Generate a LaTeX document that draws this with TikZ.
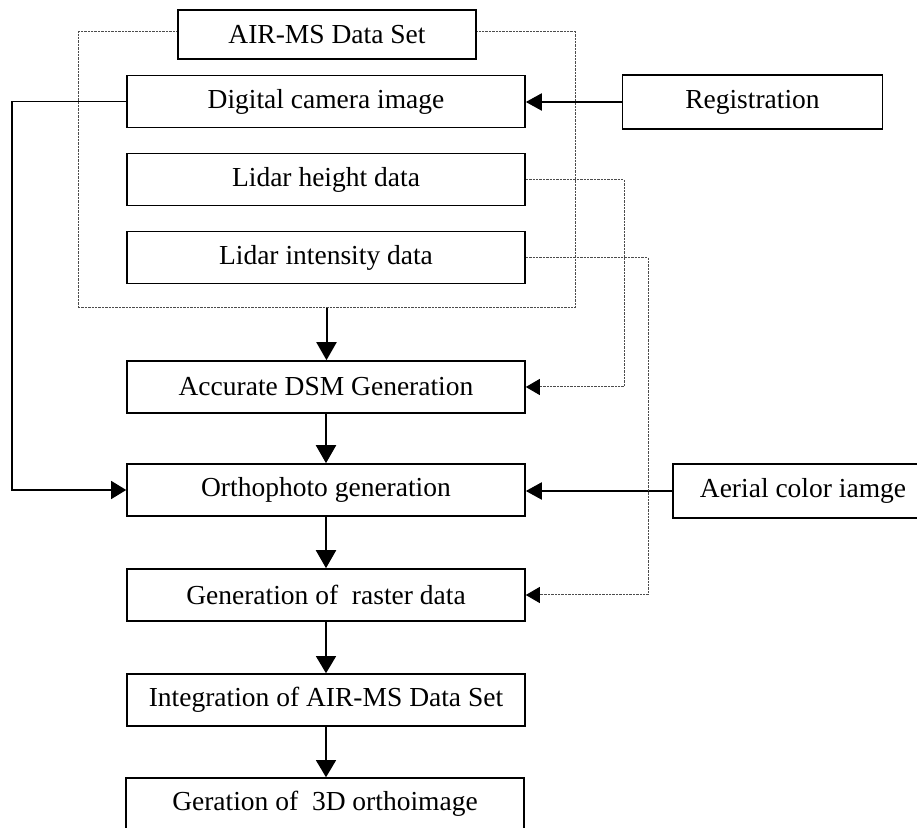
\documentclass[tikz,border=0pt]{standalone}
\usepackage{fontspec}
\setmainfont{Liberation Serif}
\usetikzlibrary{arrows.meta}
\begin{document}
\begin{tikzpicture}[x=0.5pt,y=-0.5pt,
  txt/.style={font=\fontsize{13.75pt}{16pt}\selectfont},
  box/.style={txt, draw=black, line width=0.8pt, fill=white, inner sep=0pt,
    minimum width=199pt, minimum height=26pt},
  sidebox/.style={box, minimum width=130pt, minimum height=27pt},
  setframe/.style={draw=gray!60!black, line width=0.5pt, dash pattern=on 1.2pt off 0.5pt,
    inner sep=0pt, minimum width=248.5pt, minimum height=138pt},
  flow/.style={line width=1pt, -{Triangle[length=9pt,width=10pt]}},
  sideflow/.style={line width=1pt, -{Triangle[length=8pt,width=8.5pt]}},
  thinflow/.style={line width=0.7pt, -{Triangle[length=8.5pt,width=10pt]}},
  dotflow/.style={draw=gray!60!black, line width=0.5pt, dash pattern=on 1.2pt off 0.5pt,
    -{Triangle[length=7pt,width=8pt,color=black]}},
]
\useasboundingbox (0,0) rectangle (917,828);
\clip (0,0) rectangle (917,828);
\fill[white] (0,0) rectangle (917,828);

% dotted frame round the data set, with its title box on top
\node[setframe] (set) at (326.5,170) {};
\node[box, minimum width=149pt, minimum height=24.5pt] (airms) at (327,34.5) {AIR-MS Data Set};

% data set members
\node[box] (camera)    at (326,101.5) {Digital camera image};
\node[box] (height)    at (326,179.5) {Lidar height data};
\node[box] (intensity) at (326,257.5) {Lidar intensity data};

% processing chain
\node[box] (dsm)      at (326,387)   {Accurate DSM Generation};
\node[box] (ortho)    at (326,490)   {Orthophoto generation};
\node[box] (raster)   at (326,595)   {Generation of~ raster data};
\node[box] (integ)    at (326,700)   {Integration of AIR-MS Data Set};
\node[box] (geration) at (325,804)   {Geration of~ 3D orthoimage};

% side inputs
\node[sidebox] (reg)    at (752.5,102) {Registration};
\node[sidebox] (aerial) at (803,491)   {Aerial color iamge};

% turning points of the routed links
\coordinate (leftrail) at (12,0);
\coordinate (hrail)    at (624,0);
\coordinate (irail)    at (648,0);

% main flow
\draw[flow] (set.south) -- (set.south |- dsm.north);
\draw[flow] (dsm) -- (ortho);
\draw[flow] (ortho) -- (raster);
\draw[thinflow] (raster) -- (integ);
\draw[thinflow] (integ.south) -- (integ.south |- geration.north);

% side inputs
\draw[sideflow] (reg.west) -- (reg.west -| camera.east);
\draw[sideflow] (aerial.west) -- (aerial.west -| ortho.east);

% camera image routed round the left
\draw[line width=0.6pt, -{Triangle[length=7.5pt,width=9pt]}]
  (camera.west) -- (camera.west -| leftrail) |- (ortho.west);

% lidar data routed round the right
\draw[dotflow] (height.east) -- (height.east -| hrail) |- (dsm.east);
\draw[dotflow] (intensity.east) -- (intensity.east -| irail) |- (raster.east);
\end{tikzpicture}
\end{document}
